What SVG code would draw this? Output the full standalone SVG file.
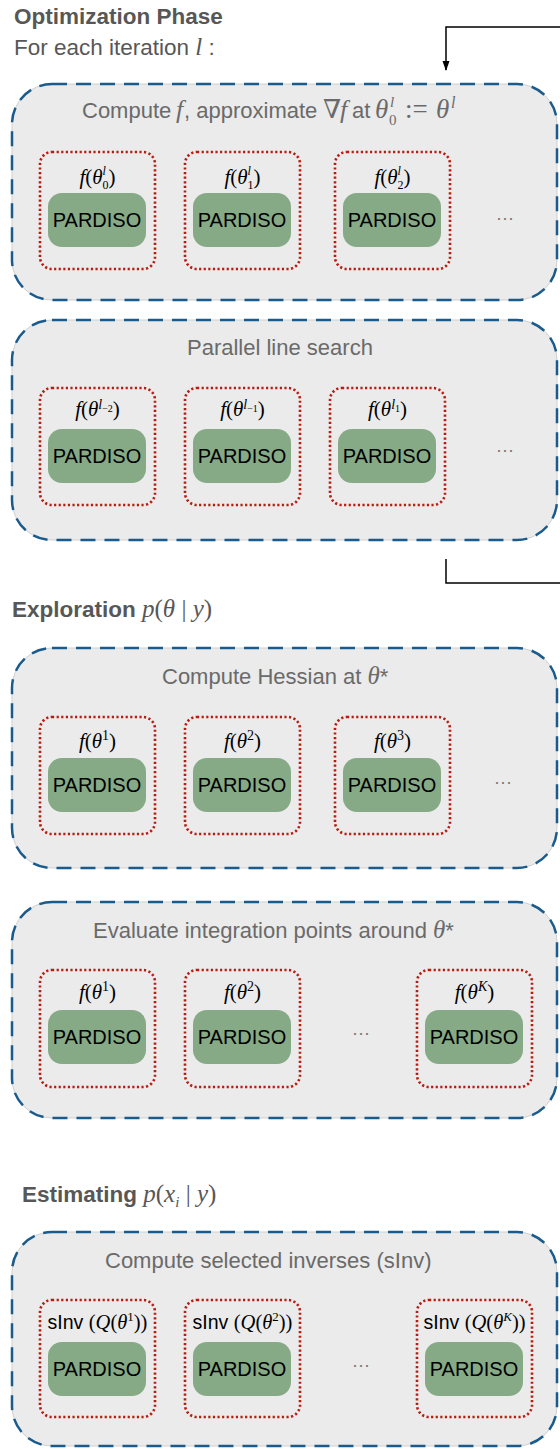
<svg xmlns="http://www.w3.org/2000/svg" width="560" height="1450" viewBox="0 0 560 1450">
<defs>
<style>
.hdr{font-family:"Liberation Sans",Arial,sans-serif;font-weight:bold;font-size:22.5px;fill:#575757}
.sub{font-family:"Liberation Sans",Arial,sans-serif;font-size:22.5px;fill:#575757}
.ttl{font-family:"Liberation Sans",Arial,sans-serif;font-size:22px;fill:#6a6a6a}
.mi{font-family:"Liberation Serif","DejaVu Serif",serif;font-style:italic;font-weight:normal}
.mr{font-family:"Liberation Serif","DejaVu Serif",serif;font-style:normal;font-weight:normal}
.lab{font-family:"Liberation Serif","DejaVu Serif",serif;font-size:21px;fill:#000;text-anchor:middle}
.sinv{font-family:"Liberation Sans",Arial,sans-serif;font-size:19.5px;fill:#000;text-anchor:middle}
.pard{font-family:"Liberation Sans",Arial,sans-serif;font-size:20px;fill:#000;text-anchor:middle}
.panel{fill:#ebebeb;stroke:#cfcfcf;stroke-width:1}
.pdash{fill:none;stroke:#1b5b8b;stroke-width:2.5;stroke-dasharray:15 9}
.slot{fill:none;stroke:#b81d13;stroke-width:2.6;stroke-dasharray:2.2 2.4}
.green{fill:#86a986}
.dots{font-family:"Liberation Sans",Arial,sans-serif;font-size:18px;fill:#777;text-anchor:middle}
.conn{fill:none;stroke:#000;stroke-width:1.5}
</style>
<marker id="ah" markerWidth="10" markerHeight="10" refX="9" refY="5" orient="auto" markerUnits="userSpaceOnUse">
<path d="M0,1.5 L10,5 L0,8.5 Z" fill="#000"/>
</marker>
</defs>

<g id="headers">
<text class="hdr" x="14" y="24">Optimization Phase</text>
<text class="sub" x="14" y="55">For each iteration <tspan class="mi" font-size="25">l</tspan> :</text>
<text class="hdr" x="12" y="617">Exploration <tspan class="mi" font-size="25">p</tspan><tspan class="mr" font-size="25">(</tspan><tspan class="mi" font-size="25">θ</tspan><tspan class="mr" font-size="25"> | </tspan><tspan class="mi" font-size="25">y</tspan><tspan class="mr" font-size="25">)</tspan></text>
<text class="hdr" x="22" y="1202">Estimating <tspan class="mi" font-size="25">p</tspan><tspan class="mr" font-size="25">(</tspan><tspan class="mi" font-size="25">x</tspan><tspan class="mi" font-size="15" dy="5">i</tspan><tspan class="mr" font-size="25" dy="-5"> | </tspan><tspan class="mi" font-size="25">y</tspan><tspan class="mr" font-size="25">)</tspan></text>
</g>

<g id="connectors">
<path class="conn" d="M560,27 H446 V70" marker-end="url(#ah)"/>
<path class="conn" d="M446,559 V583 H560"/>
</g>

<g id="panel-gradient">
<rect class="panel" x="12" y="84" width="545" height="216" rx="40"/>
<rect class="pdash" x="12" y="84" width="545" height="216" rx="40"/>
<text class="ttl" x="82" y="118">Compute<tspan class="mi" font-size="26" x="176">f</tspan><tspan x="184">, approximate</tspan><tspan class="mr" font-size="26" x="323">∇</tspan><tspan class="mi" font-size="26" x="340">f</tspan><tspan x="352">at</tspan><tspan class="mi" font-size="27" x="375">θ</tspan><tspan class="mi" font-size="15" x="390" dy="-11">l</tspan><tspan class="mr" font-size="15" x="389" dy="18">0</tspan><tspan class="mr" font-size="27" x="405" dy="-7">:=</tspan><tspan class="mi" font-size="27" x="436">θ</tspan><tspan class="mi" font-size="16" x="451" dy="-10">l</tspan></text>
<g id="p1-s1"><rect class="slot" x="40" y="152" width="115" height="117" rx="12"/><rect class="green" x="48" y="193" width="98" height="54" rx="14"/>
<text class="lab" x="97.5" y="184"><tspan class="mi">f</tspan>(<tspan class="mi">θ</tspan><tspan class="mi" font-size="12" dy="-9">l</tspan><tspan font-size="12" dx="-3.3" dy="14">0</tspan><tspan dy="-5">)</tspan></text>
<text class="pard" x="97" y="227">PARDISO</text></g>
<g id="p1-s2"><rect class="slot" x="185" y="152" width="115" height="117" rx="12"/><rect class="green" x="193" y="193" width="98" height="54" rx="14"/>
<text class="lab" x="242.5" y="184"><tspan class="mi">f</tspan>(<tspan class="mi">θ</tspan><tspan class="mi" font-size="12" dy="-9">l</tspan><tspan font-size="12" dx="-3.3" dy="14">1</tspan><tspan dy="-5">)</tspan></text>
<text class="pard" x="242" y="227">PARDISO</text></g>
<g id="p1-s3"><rect class="slot" x="335" y="152" width="115" height="117" rx="12"/><rect class="green" x="343" y="193" width="98" height="54" rx="14"/>
<text class="lab" x="392.5" y="184"><tspan class="mi">f</tspan>(<tspan class="mi">θ</tspan><tspan class="mi" font-size="12" dy="-9">l</tspan><tspan font-size="12" dx="-3.3" dy="14">2</tspan><tspan dy="-5">)</tspan></text>
<text class="pard" x="392" y="227">PARDISO</text></g>
<text class="dots" x="505" y="224">···</text>
</g>

<g id="panel-linesearch">
<rect class="panel" x="12" y="320" width="545" height="220" rx="40"/>
<rect class="pdash" x="12" y="320" width="545" height="220" rx="40"/>
<text class="ttl" x="187" y="355">Parallel line search</text>
<g id="p2-s1"><rect class="slot" x="40" y="388" width="115" height="117" rx="12"/><rect class="green" x="48" y="429" width="98" height="54" rx="14"/>
<text class="lab" x="97.5" y="416"><tspan class="mi">f</tspan>(<tspan class="mi">θ</tspan><tspan class="mi" font-size="14" dy="-7">l</tspan><tspan font-size="10" dy="3">−2</tspan><tspan dy="4">)</tspan></text>
<text class="pard" x="97" y="463">PARDISO</text></g>
<g id="p2-s2"><rect class="slot" x="185" y="388" width="115" height="117" rx="12"/><rect class="green" x="193" y="429" width="98" height="54" rx="14"/>
<text class="lab" x="242.5" y="416"><tspan class="mi">f</tspan>(<tspan class="mi">θ</tspan><tspan class="mi" font-size="14" dy="-7">l</tspan><tspan font-size="10" dy="3">−1</tspan><tspan dy="4">)</tspan></text>
<text class="pard" x="242" y="463">PARDISO</text></g>
<g id="p2-s3"><rect class="slot" x="330" y="388" width="115" height="117" rx="12"/><rect class="green" x="338" y="429" width="98" height="54" rx="14"/>
<text class="lab" x="387.5" y="416"><tspan class="mi">f</tspan>(<tspan class="mi">θ</tspan><tspan class="mi" font-size="14" dy="-7">l</tspan><tspan font-size="10" dy="3">1</tspan><tspan dy="4">)</tspan></text>
<text class="pard" x="387" y="463">PARDISO</text></g>
<text class="dots" x="505" y="456">···</text>
</g>

<g id="panel-hessian">
<rect class="panel" x="12" y="648" width="545" height="220" rx="40"/>
<rect class="pdash" x="12" y="648" width="545" height="220" rx="40"/>
<text class="ttl" x="162" y="684">Compute Hessian at <tspan class="mi" font-size="25">θ</tspan>*</text>
<g id="p3-s1"><rect class="slot" x="40" y="717" width="115" height="117" rx="12"/><rect class="green" x="48" y="758" width="98" height="54" rx="14"/>
<text class="lab" x="97.5" y="748"><tspan class="mi">f</tspan>(<tspan class="mi">θ</tspan><tspan font-size="14" dy="-8">1</tspan><tspan dy="8">)</tspan></text>
<text class="pard" x="97" y="792">PARDISO</text></g>
<g id="p3-s2"><rect class="slot" x="185" y="717" width="115" height="117" rx="12"/><rect class="green" x="193" y="758" width="98" height="54" rx="14"/>
<text class="lab" x="242.5" y="748"><tspan class="mi">f</tspan>(<tspan class="mi">θ</tspan><tspan font-size="14" dy="-8">2</tspan><tspan dy="8">)</tspan></text>
<text class="pard" x="242" y="792">PARDISO</text></g>
<g id="p3-s3"><rect class="slot" x="335" y="717" width="115" height="117" rx="12"/><rect class="green" x="343" y="758" width="98" height="54" rx="14"/>
<text class="lab" x="392.5" y="748"><tspan class="mi">f</tspan>(<tspan class="mi">θ</tspan><tspan font-size="14" dy="-8">3</tspan><tspan dy="8">)</tspan></text>
<text class="pard" x="392" y="792">PARDISO</text></g>
<text class="dots" x="503" y="788">···</text>
</g>

<g id="panel-integration">
<rect class="panel" x="12" y="902" width="545" height="216" rx="40"/>
<rect class="pdash" x="12" y="902" width="545" height="216" rx="40"/>
<text class="ttl" x="93" y="938">Evaluate integration points around <tspan class="mi" font-size="25">θ</tspan>*</text>
<g id="p4-s1"><rect class="slot" x="40" y="970" width="115" height="117" rx="12"/><rect class="green" x="48" y="1010" width="98" height="54" rx="14"/>
<text class="lab" x="97.5" y="999"><tspan class="mi">f</tspan>(<tspan class="mi">θ</tspan><tspan font-size="14" dy="-8">1</tspan><tspan dy="8">)</tspan></text>
<text class="pard" x="97" y="1044">PARDISO</text></g>
<g id="p4-s2"><rect class="slot" x="185" y="970" width="115" height="117" rx="12"/><rect class="green" x="193" y="1010" width="98" height="54" rx="14"/>
<text class="lab" x="242.5" y="999"><tspan class="mi">f</tspan>(<tspan class="mi">θ</tspan><tspan font-size="14" dy="-8">2</tspan><tspan dy="8">)</tspan></text>
<text class="pard" x="242" y="1044">PARDISO</text></g>
<g id="p4-s3"><rect class="slot" x="417" y="970" width="115" height="117" rx="12"/><rect class="green" x="425" y="1010" width="98" height="54" rx="14"/>
<text class="lab" x="474.5" y="999"><tspan class="mi">f</tspan>(<tspan class="mi">θ</tspan><tspan class="mi" font-size="14" dy="-8">K</tspan><tspan dy="8">)</tspan></text>
<text class="pard" x="474" y="1044">PARDISO</text></g>
<text class="dots" x="361" y="1039">···</text>
</g>

<g id="panel-sinv">
<rect class="panel" x="12" y="1232" width="545" height="214" rx="40"/>
<rect class="pdash" x="12" y="1232" width="545" height="214" rx="40"/>
<text class="ttl" x="105" y="1268">Compute selected inverses (sInv)</text>
<g id="p5-s1"><rect class="slot" x="40" y="1300" width="115" height="117" rx="12"/><rect class="green" x="48" y="1342" width="98" height="54" rx="14"/>
<text class="sinv" x="97.5" y="1329">sInv <tspan class="mr" font-size="20.5">(</tspan><tspan class="mi" font-size="20.5">Q</tspan><tspan class="mr" font-size="20.5">(</tspan><tspan class="mi" font-size="20.5">θ</tspan><tspan class="mr" font-size="13" dy="-8">1</tspan><tspan class="mr" font-size="20.5" dy="8">))</tspan></text>
<text class="pard" x="97" y="1376">PARDISO</text></g>
<g id="p5-s2"><rect class="slot" x="185" y="1300" width="115" height="117" rx="12"/><rect class="green" x="193" y="1342" width="98" height="54" rx="14"/>
<text class="sinv" x="242.5" y="1329">sInv <tspan class="mr" font-size="20.5">(</tspan><tspan class="mi" font-size="20.5">Q</tspan><tspan class="mr" font-size="20.5">(</tspan><tspan class="mi" font-size="20.5">θ</tspan><tspan class="mr" font-size="13" dy="-8">2</tspan><tspan class="mr" font-size="20.5" dy="8">))</tspan></text>
<text class="pard" x="242" y="1376">PARDISO</text></g>
<g id="p5-s3"><rect class="slot" x="417" y="1300" width="115" height="117" rx="12"/><rect class="green" x="425" y="1342" width="98" height="54" rx="14"/>
<text class="sinv" x="474.5" y="1329">sInv <tspan class="mr" font-size="20.5">(</tspan><tspan class="mi" font-size="20.5">Q</tspan><tspan class="mr" font-size="20.5">(</tspan><tspan class="mi" font-size="20.5">θ</tspan><tspan class="mi" font-size="13" dy="-8">K</tspan><tspan class="mr" font-size="20.5" dy="8">))</tspan></text>
<text class="pard" x="474" y="1376">PARDISO</text></g>
<text class="dots" x="361" y="1371">···</text>
</g>
</svg>
